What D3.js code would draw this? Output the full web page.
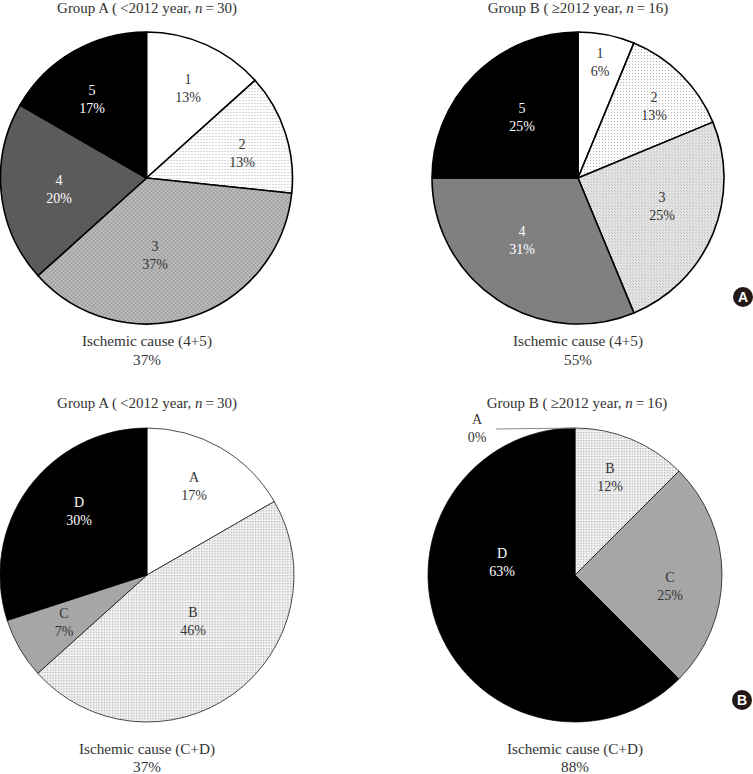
<!DOCTYPE html>
<html><head><meta charset="utf-8">
<script src="https://cdn.jsdelivr.net/npm/d3@7"></script>
<style>html,body{margin:0;background:#fff}svg{display:block}text{font-family:"Liberation Serif",serif;font-size:14px;text-anchor:middle;fill:#333}.big{font-size:15.2px}.ttl{font-size:15px}</style>
</head><body><div id="c"></div>
<script>
// Data (patient counts, printed percentages)
const causeCats = ["1","2","3","4","5"];
const ischemicCats = ["A","B","C","D"];
const a1Counts = [4,4,11,6,5];
const a2Counts = [1,2,4,5,4];
const b1Counts = [5,14,2,9];
const b2Counts = [0,2,4,10];
const a1Pct = ["13%","13%","37%","20%","17%"];
const a2Pct = ["6%","13%","25%","31%","25%"];
const b1Pct = ["17%","46%","7%","30%"];
const b2Pct = ["0%","12%","25%","63%"];

// Layout and style
const W=753,H=774;
const svg=d3.select("#c").append("svg").attr("width",W).attr("height",H);
const defs=svg.append("defs");
function pat(id,size,bg,dots,col){
  const p=defs.append("pattern").attr("id",id).attr("patternUnits","userSpaceOnUse").attr("width",size).attr("height",size);
  p.append("rect").attr("width",size).attr("height",size).attr("fill",bg);
  dots.forEach(d=>p.append("rect").attr("x",d[0]).attr("y",d[1]).attr("width",d[2]||1).attr("height",d[3]||1).attr("fill",col));
}
pat("dotsSparse",3,"#fdfdfd",[[0,0,1,1]],"#b4b4b4");
pat("dotsLight",3,"#e4e4e4",[[0,0,1,1],[1,1,1,1]],"#c2c2c2");
pat("checkGrey",4,"#bcbcbc",[[0,0,2,2],[2,2,2,2]],"#a2a2a2");
pat("dotsB",2.7,"#f4f4f4",[[0,0,1.2,1.2]],"#a8a8a8");

const titleA=["Group A (\u2009<2012 year, ","n","\u2009=\u200930)"];
const titleB=["Group B (\u2009\u22652012 year, ","n","\u2009=\u200916)"];
const panels=[
 {cx:146.5,cy:178,r:146,sw:1.6,title:titleA,tx:147,ty:13,
  cats:causeCats,counts:a1Counts,pct:a1Pct,
  fills:["#fff","url(#dotsSparse)","url(#checkGrey)","#5b5b5b","#000"],txt:["#333","#333","#333","#fff","#fff"],
  lab:[[188,79],[242,144],[155,246],[59,180],[92,90]],
  cap:["Ischemic cause (4+5)","37%"],capX:147,capY:[346,365]},
 {cx:578,cy:178,r:146,sw:1.6,title:titleB,tx:578,ty:13,
  cats:causeCats,counts:a2Counts,pct:a2Pct,
  fills:["#fff","url(#dotsSparse)","url(#dotsLight)","#808080","#000"],txt:["#333","#333","#333","#fff","#fff"],
  lab:[[600,53],[654,97],[662,197],[522,231],[522,108]],
  cap:["Ischemic cause (4+5)","55%"],capX:578,capY:[346,365]},
 {cx:147,cy:575,r:147,sw:0.7,title:titleA,tx:147,ty:408,
  cats:ischemicCats,counts:b1Counts,pct:b1Pct,
  fills:["#fff","url(#dotsB)","#a6a6a6","#000"],txt:["#333","#333","#333","#fff"],
  lab:[[194,477],[193,612],[64,613],[79,502]],
  cap:["Ischemic cause (C+D)","37%"],capX:147,capY:[754,772]},
 {cx:575,cy:575,r:147,sw:0.7,title:titleB,tx:577,ty:408,
  cats:ischemicCats,counts:b2Counts,pct:b2Pct,
  fills:["#fff","url(#dotsB)","#a6a6a6","#000"],txt:["#333","#333","#333","#fff"],
  lab:[[477,419],[610,468],[670,577],[502,553]],leader:[[496,429],[575,428]],
  cap:["Ischemic cause (C+D)","88%"],capX:575,capY:[754,772]}
];

const pie=d3.pie().sort(null).value(d=>d);
panels.forEach(p=>{
  const arc=d3.arc().innerRadius(0).outerRadius(p.r);
  const g=svg.append("g").attr("transform",`translate(${p.cx},${p.cy})`);
  g.selectAll("path").data(pie(p.counts)).join("path")
    .attr("d",arc).attr("fill",(d,i)=>p.fills[i])
    .attr("stroke","#000").attr("stroke-width",p.sw).attr("stroke-linejoin","round");
  if(p.leader) svg.append("path").attr("d",d3.line()(p.leader)).attr("stroke","#888").attr("stroke-width",1).attr("fill","none");
  const t=svg.append("text").attr("class","ttl").attr("x",p.tx).attr("y",p.ty);
  t.append("tspan").text(p.title[0]);
  t.append("tspan").attr("font-style","italic").text(p.title[1]);
  t.append("tspan").text(p.title[2]);
  p.cats.forEach((c,i)=>{
    const [x,y]=p.lab[i];
    svg.append("text").attr("x",x).attr("y",y+5).style("fill",p.txt[i]).text(c);
    svg.append("text").attr("x",x).attr("y",y+22.5).style("fill",p.txt[i]).text(p.pct[i]);
  });
  p.cap.forEach((s,i)=>svg.append("text").attr("class","big").attr("x",p.capX).attr("y",p.capY[i]).text(s));
});
[["A",743,297],["B",742,700]].forEach(b=>{
  svg.append("circle").attr("cx",b[1]).attr("cy",b[2]).attr("r",10).attr("fill","#231815");
  svg.append("text").attr("x",b[1]).attr("y",b[2]+5).style("fill","#fff").style("font-family","'Liberation Sans',sans-serif").style("font-weight","700").style("font-size","14px").text(b[0]);
});
</script></body></html>
